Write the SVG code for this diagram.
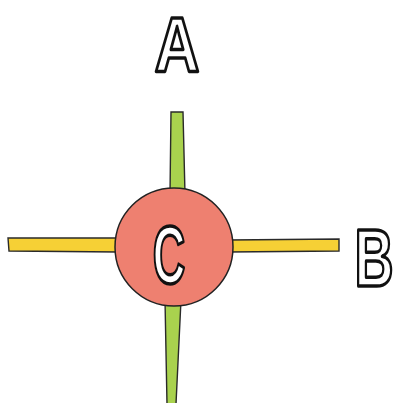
<svg xmlns="http://www.w3.org/2000/svg" width="394" height="403" viewBox="0 0 394 403">
<style>
.lbl{font-family:"Liberation Sans",Arial,sans-serif;font-weight:bold;font-size:82px;fill:#fff;stroke:#111;stroke-width:3.4px;stroke-linejoin:round;text-anchor:middle}
.green{fill:#a9d24e;stroke:#2a2a2a;stroke-width:1.4}
.yellow{fill:#f6d035;stroke:#2a2a2a;stroke-width:1.4}
</style>
<rect width="394" height="403" fill="#fff"/>
<g id="connectors">
<polygon class="green" points="171,112 183,112 185,194 170,194"/>
<polygon class="green" points="165,300 181,300 176,404 167,404"/>
<polygon class="yellow" points="8,238 118,238 118,252 9,251"/>
<polygon class="yellow" points="228,240 339,239 339,251 228,252"/>
</g>
<g id="C">
<circle cx="174" cy="247" r="59" fill="#ee8070" stroke="#222" stroke-width="1.5"/>
<text class="lbl" transform="translate(169,283) scale(0.55,1)">C</text>
</g>
<g id="A">
<text class="lbl" style="font-size:78px" transform="translate(177,72) scale(0.8,1)">A</text>
</g>
<g id="B">
<text class="lbl" transform="translate(374,286) scale(0.66,1)">B</text>
</g>
</svg>
